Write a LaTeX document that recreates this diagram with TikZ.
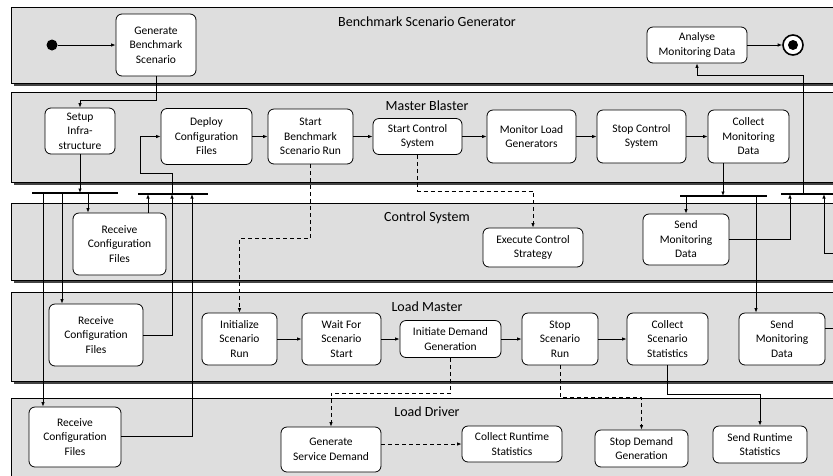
\documentclass[tikz,border=0pt]{standalone}
\usepackage{fontspec}
\setmainfont{Carlito}
\usetikzlibrary{arrows.meta}
\definecolor{lanegray}{HTML}{DEDEDE}
\definecolor{shadowgray}{HTML}{444444}
\begin{document}
\begin{tikzpicture}[x=1pt,y=-1pt,
  lane/.style={draw=black, line width=0.8pt, fill=lanegray},
  laneshadow/.style={fill=shadowgray},
  lanetitle/.style={font=\fontsize{14}{16}\selectfont, inner sep=0pt},
  act/.style={draw, line width=0.8pt, fill=white, rounded corners=6pt, align=center,
              inner sep=1pt, font=\fontsize{11.5}{14.5}\selectfont},
  arr/.style={line width=0.8pt, -{Latex[length=4.5pt,width=3.5pt]}},
  dsh/.style={arr, dash pattern=on 4pt off 3pt},
  bar/.style={line width=2pt}]
\useasboundingbox (0,0) rectangle (833,475);
\clip (0,0) rectangle (833,475);

% swimlanes
\foreach \ya/\yb in {7/83, 92/182, 203/280, 292/381, 398/490}{
  \fill[laneshadow] (13.5,\ya+2.5) rectangle (846,\yb+2.5);
  \filldraw[lane] (11,\ya) rectangle (843,\yb);
}
\node[lanetitle] (tBSG) at (427,22) {Benchmark Scenario Generator};
\node[lanetitle] (tMB)  at (427,106) {Master Blaster};
\node[lanetitle] (tCS)  at (427,218) {Control System};
\node[lanetitle] (tLM)  at (427,307) {Load Master};
\node[lanetitle] (tLD)  at (427,412) {Load Driver};

% Benchmark Scenario Generator
\node[circle, fill=black, minimum size=11pt, inner sep=0pt] (init) at (52,45) {};
\node[act, minimum width=80pt, minimum height=62pt] (gen) at (156,45) {Generate\\Benchmark\\Scenario};
\node[act, minimum width=100pt, minimum height=36pt] (amd) at (697,45) {Analyse\\Monitoring Data};
\node[circle, draw, line width=1.6pt, fill=white, minimum size=20pt, inner sep=0pt] (fin) at (793,45) {};
\node[circle, fill=black, minimum size=10pt, inner sep=0pt] (findot) at (fin) {};

% Master Blaster
\node[act, minimum width=70pt, minimum height=46pt] (setup) at (80,131) {Setup\\Infra-\\structure};
\node[act, minimum width=91pt, minimum height=56pt] (deploy) at (206.5,136.5) {Deploy\\Configuration\\Files};
\node[act, minimum width=85pt, minimum height=55pt] (sbsr) at (310.5,136.5) {Start\\Benchmark\\Scenario Run};
\node[act, minimum width=89pt, minimum height=36pt] (scs) at (417.5,136.5) {Start Control\\System};
\node[act, minimum width=89pt, minimum height=53pt] (mlg) at (531.5,136.5) {Monitor Load\\Generators};
\node[act, minimum width=89pt, minimum height=53pt] (scsys) at (641.5,136.5) {Stop Control\\System};
\node[act, minimum width=81pt, minimum height=53pt] (cmd) at (748.5,136.5) {Collect\\Monitoring\\Data};

% Control System
\node[act, minimum width=93pt, minimum height=62pt] (rcCS) at (119.5,244) {Receive\\Configuration\\Files};
\node[act, minimum width=100pt, minimum height=39pt] (ecs) at (533,247.5) {Execute Control\\Strategy};
\node[act, minimum width=86pt, minimum height=51pt] (smdCS) at (686,239.5) {Send\\Monitoring\\Data};

% Load Master
\node[act, minimum width=94pt, minimum height=62pt] (rcLM) at (96,335) {Receive\\Configuration\\Files};
\node[act, minimum width=75pt, minimum height=52pt] (isr) at (239.5,339) {Initialize\\Scenario\\Run};
\node[act, minimum width=79pt, minimum height=52pt] (wfs) at (341.5,339) {Wait For\\Scenario\\Start};
\node[act, minimum width=101pt, minimum height=37pt] (ids) at (450.5,339) {Initiate Demand\\Generation};
\node[act, minimum width=76pt, minimum height=52pt] (ssr) at (560,339) {Stop\\Scenario\\Run};
\node[act, minimum width=81pt, minimum height=52pt] (css) at (667.5,339) {Collect\\Scenario\\Statistics};
\node[act, minimum width=86pt, minimum height=52pt] (smdLM) at (782,339) {Send\\Monitoring\\Data};

% Load Driver
\node[act, minimum width=92pt, minimum height=60pt] (rcLD) at (75,437) {Receive\\Configuration\\Files};
\node[act, minimum width=100pt, minimum height=45pt] (gsd) at (331,449.5) {Generate\\Service Demand};
\node[act, minimum width=100pt, minimum height=36pt] (crs) at (512,444) {Collect Runtime\\Statistics};
\node[act, minimum width=93pt, minimum height=37pt] (sdg) at (641.5,448.5) {Stop Demand\\Generation};
\node[act, minimum width=94pt, minimum height=37pt] (srs) at (760,444.5) {Send Runtime\\Statistics};

% fork / join bars
\coordinate (bA1) at (32,193);  \coordinate (bA2) at (118,193);
\coordinate (bB1) at (138,194); \coordinate (bB2) at (208,194);
\coordinate (bC1) at (680,196); \coordinate (bC2) at (767,196);
\coordinate (bD1) at (781,194); \coordinate (bD2) at (850,194);
\draw[bar] (bA1) -- (bA2);
\draw[bar] (bB1) -- (bB2);
\draw[bar] (bC1) -- (bC2);
\draw[bar] (bD1) -- (bD2);

% taps on the bars
\coordinate (tapLD) at (43,193);
\coordinate (tapLM) at (62,193);
\coordinate (tapCS) at (88,193);
\coordinate (joinCS) at (148,194);
\coordinate (joinLM) at (172,194);
\coordinate (joinLD) at (192,194);
\coordinate (tapCmd) at (723,196);
\coordinate (tapSmd) at (756,196);
\coordinate (joinS1) at (790,194);
\coordinate (joinS2) at (824,194);
\coordinate (outD) at (803,194);

% control flow
\draw[arr] (init) -- (gen.west);
\draw[arr] (gen.south) -- ++(0,24) -| (setup.north);
\draw[arr] (setup.south) -- (setup.south |- bA1);
\draw[arr] (tapLD) -- (tapLD |- rcLD.north);
\draw[arr] (tapLM) -- (tapLM |- rcLM.north);
\draw[arr] (tapCS) -- (tapCS |- rcCS.north);
\draw[arr] (joinCS |- rcCS.north) -- (joinCS);
\draw[arr] (rcLM.east) -| (joinLM);
\draw[arr] ([yshift=1pt]rcLD.east) -| (joinLD);
\draw[arr] (joinLM) -- ++(0,-21) -- ++(-32,0) |- (deploy.west);

\draw[arr] (deploy.east) -- (sbsr.west);
\draw[arr] (sbsr.east) -- (scs.west);
\draw[arr] (scs.east) -- (mlg.west);
\draw[arr] (mlg.east) -- (scsys.west);
\draw[arr] (scsys.east) -- (cmd.west);

\draw[dsh] (sbsr.south) -- ++(0,74) -| (isr.north);
\draw[dsh] (scs.south) -- ++(0,36) -| (ecs.north);

\draw[arr] (tapCmd |- cmd.south) -- (tapCmd);
\draw[arr] (smdCS.north |- bC1) -- (smdCS.north);
\draw[arr] (tapSmd) -- (tapSmd |- smdLM.north);
\draw[arr] (smdCS.east) -| (joinS1);
\draw[arr] ([yshift=11pt]smdLM.east) -- ++(25,0) |- (824,253) -- (joinS2);
\draw[arr] (outD) -- (803,75) -| (amd.south);
\draw[arr] (amd.east) -- (fin.west);

\draw[arr] (isr.east) -- (wfs.west);
\draw[arr] (wfs.east) -- (ids.west);
\draw[arr] (ids.east) -- (ssr.west);
\draw[arr] (ssr.east) -- (css.west);

\draw[dsh] (ids.south) -- ++(0,35) -| (gsd.north);
\draw[dsh] (gsd.east |- crs.west) -- (crs.west);
\draw[dsh] (ssr.south) -- ++(0,32) -| (sdg.north);
\draw[arr] (css.south) -- ++(0,29) -| (srs.north);
\end{tikzpicture}
\end{document}
